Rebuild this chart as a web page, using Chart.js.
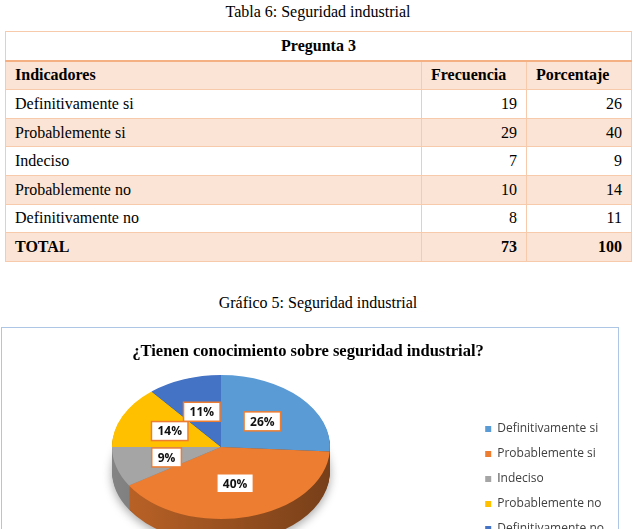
<!DOCTYPE html>
<html>
<head>
<meta charset="utf-8">
<script src="https://cdn.jsdelivr.net/npm/chart.js@4.4.1/dist/chart.umd.min.js"></script>
<style>
html, body { margin: 0; padding: 0; width: 636px; height: 529px; overflow: hidden; background: #fff; }
.cap { position: absolute; left: 0; width: 636px; text-align: center; font: 16px "Liberation Serif", "Times New Roman", serif; color: #000; line-height: 18px; }
#t6 { top: 3px; }
#g5 { top: 294px; }
#tabla { position: absolute; left: 5px; top: 31px; width: 627px; border-collapse: collapse; font: 16px "Liberation Serif", "Times New Roman", serif; color: #000; }
#tabla td { border: 1px solid #f7caac; padding: 0 9px 0 9px; height: 27.6px; line-height: 18px; }
#tabla td.num { text-align: right; }
#tabla tr.alt td { background: #fbe4d5; }
#tabla tr.head td { font-weight: bold; }
#tabla tr.preg td { text-align: center; font-weight: bold; border-bottom: 2px solid #f4b083; }
#box { position: absolute; left: 1px; top: 327px; width: 616px; height: 300px; border: 1.5px solid #adc6e5; }
#pie { position: absolute; left: 2px; top: 329px; }
</style>
</head>
<body>
<div class="cap" id="t6">Tabla 6: Seguridad industrial</div>
<table id="tabla"></table>
<div class="cap" id="g5">Gráfico 5: Seguridad industrial</div>
<div id="box"></div>
<canvas id="pie" width="615" height="300"></canvas>
<script>
const INDICADORES = ['Definitivamente si', 'Probablemente si', 'Indeciso', 'Probablemente no', 'Definitivamente no'];
const FRECUENCIA = [19, 29, 7, 10, 8];
const PORCENTAJE = [26, 40, 9, 14, 11];
const COLORES = ['#5b9bd5', '#ed7d31', '#a5a5a5', '#ffc000', '#4472c4'];
const TITULO = '¿Tienen conocimiento sobre seguridad industrial?';

// pie "3D" look: centre and radii of the top face, wall depth (canvas px)
const PIE_CX = 219, PIE_CY = 118, PIE_RX = 109, PIE_RY = 72, DEPTH = 24;
const LABEL_R = 0.52;

function buildTable() {
    const table = document.getElementById('tabla');
    const sum = (a) => a.reduce((s, v) => s + v, 0);
    let html = '<tr class="preg"><td colspan="3">Pregunta 3</td></tr>';
    html += '<tr class="head alt"><td>Indicadores</td><td style="width:86px">Frecuencia</td><td style="width:86px">Porcentaje</td></tr>';
    for (let i = 0; i < INDICADORES.length; i++) {
        html += `<tr class="${i % 2 ? 'alt' : ''}"><td>${INDICADORES[i]}</td><td class="num">${FRECUENCIA[i]}</td><td class="num">${PORCENTAJE[i]}</td></tr>`;
    }
    html += `<tr class="head alt"><td>TOTAL</td><td class="num">${sum(FRECUENCIA)}</td><td class="num">${sum(PORCENTAJE)}</td></tr>`;
    table.innerHTML = html;
}

function shade(hex, f) {
    const n = parseInt(hex.slice(1), 16);
    const r = Math.round(((n >> 16) & 255) * f), g = Math.round(((n >> 8) & 255) * f), b = Math.round((n & 255) * f);
    return `rgb(${r},${g},${b})`;
}

function pieTransform(chart) {
    const a0 = chart.getDatasetMeta(0).data[0];
    return { cx: a0.x, cy: a0.y, sx: PIE_RX / a0.outerRadius, sy: PIE_RY / a0.outerRadius, R: a0.outerRadius };
}

const pie3d = {
    id: 'pie3d',
    beforeDatasetsDraw(chart) {
        const ctx = chart.ctx;
        const t = pieTransform(chart);
        const arcs = chart.getDatasetMeta(0).data;
        ctx.save();
        ctx.translate(PIE_CX, PIE_CY);
        ctx.scale(t.sx, t.sy);
        ctx.translate(-t.cx, -t.cy);
        // side walls, deepest layer first
        for (let k = DEPTH; k >= 1; k--) {
            const dy = k / t.sy;
            if (k === DEPTH) {
                ctx.shadowColor = 'rgba(0,0,0,0.35)';
                ctx.shadowBlur = 10;
                ctx.shadowOffsetY = 3;
            } else {
                ctx.shadowColor = 'transparent';
                ctx.shadowBlur = 0;
                ctx.shadowOffsetY = 0;
            }
            arcs.forEach((arc, i) => {
                const g = ctx.createLinearGradient(t.cx - t.R, 0, t.cx + t.R, 0);
                g.addColorStop(0, shade(COLORES[i], 0.8));
                g.addColorStop(1, shade(COLORES[i], 0.5));
                ctx.fillStyle = g;
                ctx.beginPath();
                ctx.moveTo(arc.x, arc.y + dy);
                ctx.arc(arc.x, arc.y + dy, arc.outerRadius, arc.startAngle, arc.endAngle);
                ctx.closePath();
                ctx.fill();
            });
        }
        ctx.shadowColor = 'transparent';
        ctx.shadowBlur = 0;
        ctx.shadowOffsetY = 0;
    },
    afterDatasetsDraw(chart) {
        const ctx = chart.ctx;
        ctx.restore();
        const t = pieTransform(chart);
        const arcs = chart.getDatasetMeta(0).data;
        ctx.save();
        ctx.font = 'bold 12px "Open Sans"';
        ctx.textAlign = 'center';
        ctx.textBaseline = 'middle';
        arcs.forEach((arc, i) => {
            const mid = (arc.startAngle + arc.endAngle) / 2;
            const r = arc.outerRadius * LABEL_R;
            const x = PIE_CX + Math.cos(mid) * r * t.sx;
            const y = PIE_CY + Math.sin(mid) * r * t.sy;
            const txt = PORCENTAJE[i] + '%';
            const w = ctx.measureText(txt).width + 12, h = 19;
            ctx.fillStyle = '#fff';
            ctx.fillRect(x - w / 2, y - h / 2, w, h);
            ctx.strokeStyle = '#ed7d31';
            ctx.lineWidth = 1.5;
            ctx.strokeRect(x - w / 2, y - h / 2, w, h);
            ctx.fillStyle = '#111';
            ctx.fillText(txt, x, y + 1);
        });
        ctx.restore();
    }
};

function createChart() {
    const cfg = {
        type: 'pie',
        data: {
            labels: INDICADORES,
            datasets: [{ data: PORCENTAJE, backgroundColor: COLORES, borderWidth: 0 }]
        },
        options: {
            responsive: false,
            animation: false,
            layout: { padding: { right: 3 } },
            plugins: {
                title: {
                    display: true,
                    text: TITULO,
                    color: '#000',
                    font: { family: '"Liberation Serif", "Times New Roman", serif', size: 16.5, weight: 'bold' },
                    padding: { top: 13, bottom: 10 }
                },
                legend: {
                    position: 'right',
                    labels: {
                        boxWidth: 6,
                        boxHeight: 6,
                        padding: 13,
                        color: '#404040',
                        font: { family: '"Open Sans"', size: 12 }
                    }
                },
                tooltip: { enabled: false }
            }
        },
        plugins: [pie3d]
    };
    return new Chart(document.getElementById('pie'), cfg);
}

buildTable();
const chart = createChart();
</script>
</body>
</html>
